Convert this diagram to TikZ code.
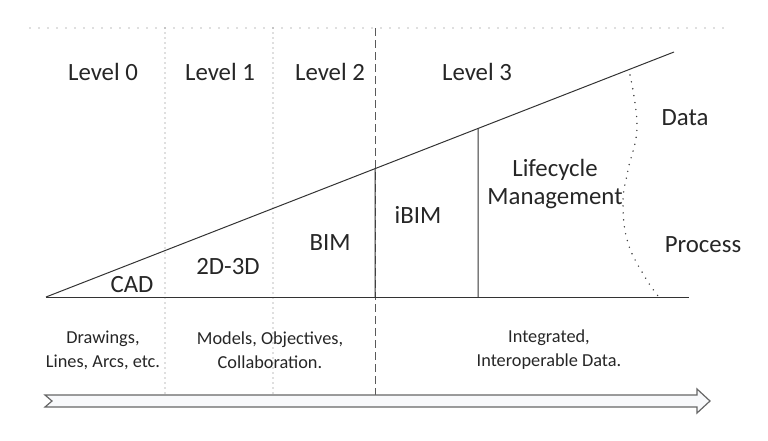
\documentclass[tikz,border=0pt]{standalone}
\usepackage{fontspec}
\setmainfont{Carlito}
\usetikzlibrary{calc}
\definecolor{arrowfill}{RGB}{248,249,251}

\begin{document}
\begin{tikzpicture}[
	x=1pt, y=-1pt,
	level/.style={text=black!85, font=\fontsize{24.8}{28}\selectfont, inner sep=0pt},
	note/.style={text=black!85, font=\fontsize{18.3}{24}\selectfont, inner sep=0pt, align=center},
	solid line/.style={draw=black!80, line width=1pt},
	dotted line/.style={draw=black!55, line width=1.4pt, line cap=round, dash pattern=on 0pt off 5pt},
	dashed line/.style={draw=black!65, line width=0.9pt, dash pattern=on 8pt off 4pt},
	timeline/.style={draw=black!60, fill=arrowfill, line width=1.2pt, line join=miter},
]

\useasboundingbox (0,0) rectangle (768,440);

\begin{scope}[]
%%% LEVEL BORDERS
\coordinate (topL) at (30,28);
\coordinate (topR) at (730,28);
\draw [dotted line, dash pattern=on 0pt off 9pt] (topL) -- (topR);

\coordinate (b1t) at (165,28);  \coordinate (b1b) at (165,393);
\coordinate (b2t) at (273,28);  \coordinate (b2b) at (273,393);
\coordinate (b3t) at (375,28);  \coordinate (b3b) at (375,395);
\draw [dotted line] (b1t) -- (b1b);
\draw [dotted line] (b2t) -- (b2b);
\draw [dashed line] (b3t) -- (b3b);
\end{scope}

\begin{scope}[]
%%% WEDGE
\coordinate (O) at (46,297);
\coordinate (T) at (674,52);
\coordinate (E) at (689,297);
\draw [solid line] (O) -- (T);
\draw [solid line] (O) -- (E);

\coordinate (ibimT) at ($(O)!{(375-46)/628}!(T)$);
\coordinate (ibimB) at (375,297);
\coordinate (lifeT) at ($(O)!{(478-46)/628}!(T)$);
\coordinate (lifeB) at (478,297);
\draw [solid line] (ibimT) -- (ibimB);
\draw [solid line] (lifeT) -- (lifeB);

\draw [dotted line, draw=black!75, dash pattern=on 0pt off 7pt, line width=1.6pt]
	plot [smooth, tension=0.7] coordinates {(630,75) (637,127) (628,170) (623,203) (628,243) (645,277) (658,296)};
\end{scope}

\begin{scope}[]
%%% LABELS
\node [level] (lvl0) at (103,72) {Level 0};
\node [level] (lvl1) at (220,72) {Level 1};
\node [level] (lvl2) at (330,72) {Level 2};
\node [level] (lvl3) at (477,72) {Level 3};

\node [level] (cad) at (132,285) {CAD};
\node [level] (tdd) at (228,267) {2D-3D};
\node [level] (bim) at (330,243) {BIM};
\node [level] (ibim) at (418,215) {iBIM};
\node [level, align=center] (life) at (555,184) {Lifecycle\\Management};
\node [level] (data) at (685,118) {Data};
\node [level] (proc) at (703,245) {Process};

\node [note] (n0) at (103,350) {Drawings,\\Lines, Arcs, etc.};
\node [note] (n1) at (270,350) {Models, Objectives,\\Collaboration.};
\node [note] (n3) at (549,350) {Integrated,\\Interoperable Data.};
\end{scope}

\begin{scope}[]
%%% TIME ARROW
\draw [timeline] (45,395) -- (697,395) -- (697,389) -- (710,401) -- (697,413)
	-- (697,407) -- (45,407) -- (52,401) -- cycle;
\end{scope}

\end{tikzpicture}
\end{document}
